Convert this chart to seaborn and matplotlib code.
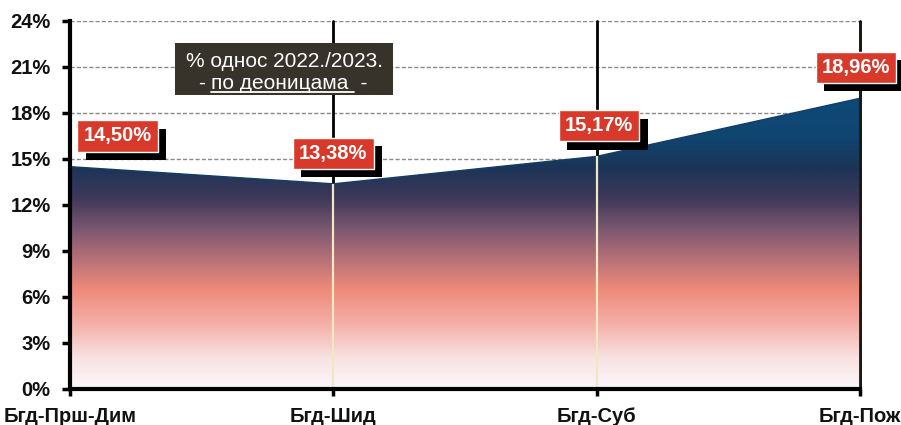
import numpy as np
import pandas as pd
import matplotlib
matplotlib.use("Agg")
import matplotlib.pyplot as plt
import seaborn as sns
import matplotlib.patheffects as path_effects
from matplotlib.colors import LinearSegmentedColormap
from matplotlib.lines import Line2D
from matplotlib.patches import Rectangle

# data
sections = ["Бгд-Прш-Дим", "Бгд-Шид", "Бгд-Суб", "Бгд-Пож"]
share = [14.50, 13.38, 15.17, 18.96]
value_labels = ["14,50%", "13,38%", "15,17%", "18,96%"]
y_ticks = [0, 3, 6, 9, 12, 15, 18, 21, 24]
title_line1 = "% однос 2022./2023."
title_line2 = "по деоницама"

# label nudges (in data units) so boxes sit like in the original
label_dx = [0.18, 0.0, 0.01, -0.015]
label_dy = 2.0

df = pd.DataFrame({"section": sections, "share": share})

sns.set_style("white")
plt.rcParams["font.family"] = ["Liberation Sans", "DejaVu Sans"]

fig = plt.figure(figsize=(9.01, 4.25), dpi=100)
ax = fig.add_axes([70 / 901, 36 / 425, 790 / 901, 368 / 425])

x = np.arange(len(sections))

# dashed horizontal grid behind the area
for t in y_ticks[1:]:
    ax.axhline(t, color="#8a8a8a", lw=1.0, ls=(0, (3, 1.5)), zorder=1)

# black vertical grid lines (visible above the area)
for xi in x[1:]:
    ax.axvline(xi, color="black", lw=2.0, zorder=1, clip_on=False)

# gradient filled area
stops = [
    (0.0, "#fbf7fb"),
    (2.0, "#f8e2e2"),
    (4.5, "#f4aaa2"),
    (6.5, "#ee8a7a"),
    (8.5, "#b67078"),
    (10.5, "#785670"),
    (12.5, "#3e3858"),
    (14.5, "#1b3458"),
    (16.5, "#0f4670"),
    (19.5, "#0d4a7a"),
]
top = stops[-1][0]
cmap = LinearSegmentedColormap.from_list("fade", [(v / top, c) for v, c in stops])
grad = np.linspace(0, 1, 256).reshape(-1, 1)

poly = ax.fill_between(x, 0, df["share"], color="none", lw=0, zorder=2)
img = ax.imshow(grad, cmap=cmap, aspect="auto", origin="lower",
                extent=[0, 3, 0, top], zorder=2)
img.set_clip_path(poly.get_paths()[0], transform=ax.transData)

sns.lineplot(x=x, y=df["share"], ax=ax, color="#123e66", lw=1.0, zorder=3)

# light lines inside the area
for xi, v in zip(x[1:3], share[1:3]):
    ax.vlines(xi, 0, v, color="#efe8c0", lw=1.6, zorder=4)
ax.vlines(3, 0, 24, color="#1a1a12", lw=2.0, zorder=4, clip_on=False)

# value labels: red boxes with black shadow
for xi, v, lab, dx in zip(x, share, value_labels, label_dx):
    t = ax.text(xi + dx, v + label_dy, lab, ha="center", va="center",
                color="white", fontsize=14.5, fontweight="bold", zorder=6,
                clip_on=False,
                bbox=dict(boxstyle="square,pad=0.3", fc="#d8392a",
                          ec="white", lw=1.0))
    t.get_bbox_patch().set_path_effects([
        path_effects.SimplePatchShadow(offset=(6, -6), shadow_rgbFace="black",
                                       alpha=1.0),
        path_effects.Normal(),
    ])

# title box
fig.patches.append(Rectangle((175 / 901, 1 - 95 / 425), 218 / 901, 52 / 425,
                             transform=fig.transFigure, fc="#38332a",
                             ec="none", zorder=5))
fig.text(284 / 901, 1 - 67 / 425, title_line1, ha="center", va="baseline",
         color="white", fontsize=15, zorder=6)
mid = fig.text(280 / 901, 1 - 89 / 425, title_line2, ha="center",
               va="baseline", color="white", fontsize=15, zorder=6)

ax.set_xlim(0, 3)
ax.set_ylim(0, 24)
ax.set_yticks(y_ticks)
ax.set_yticklabels([f"{t}%" for t in y_ticks], fontsize=14.5, fontweight="bold")
ax.set_xticks(x)
ax.set_xticklabels(sections, fontsize=14.5, fontweight="bold")
ax.set_xlabel("")
ax.set_ylabel("")
ax.tick_params(axis="y", length=6, width=2.5, color="black", pad=8,
               left=True, labelcolor="#111111")
ax.tick_params(axis="x", length=5, width=2.5, color="black", pad=8,
               bottom=True, labelcolor="#111111")

for s in ["top", "right"]:
    ax.spines[s].set_visible(False)
for s in ["left", "bottom"]:
    ax.spines[s].set_color("black")
    ax.spines[s].set_linewidth(3)
    ax.spines[s].set_zorder(5)

# dashes around the underlined part and the underline itself
fig.canvas.draw()
bb = mid.get_window_extent().transformed(fig.transFigure.inverted())
fig.text(bb.x0, 1 - 89 / 425, "- ", ha="right", va="baseline",
         color="white", fontsize=15, zorder=6)
fig.text(bb.x1, 1 - 89 / 425, "  -", ha="left", va="baseline",
         color="white", fontsize=15, zorder=6)
uy = 1 - 91.5 / 425
fig.add_artist(Line2D([bb.x0, bb.x1 + 5 / 901], [uy, uy], color="white",
                      lw=1.3, transform=fig.transFigure, zorder=7))

fig.savefig("out.png", dpi=100)
